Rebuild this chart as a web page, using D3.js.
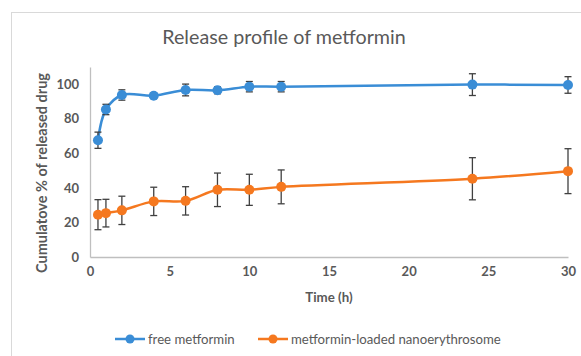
<!DOCTYPE html>
<html>
<head>
<meta charset="utf-8">
<script src="https://cdn.jsdelivr.net/npm/d3@7"></script>
<style>
  body { margin: 0; background: #fff; }
  svg { font-family: Lato, "Open Sans", sans-serif; }
</style>
</head>
<body>
<div id="chart"></div>
<script>
var times = [0.5, 1, 2, 4, 6, 8, 10, 12, 24, 30];
var freeMean = [67.6, 85.4, 93.8, 93.4, 96.7, 96.5, 98.6, 98.6, 99.8, 99.6];
var freeErr = [4.7, 3, 3, 1.5, 3.4, 2, 3, 3, 6.3, 4.8];
var nanoMean = [24.5, 25.4, 27, 32.2, 32.5, 38.9, 38.9, 40.6, 45.3, 49.7];
var nanoErr = [8.7, 8, 8.2, 8.2, 8.2, 9.7, 9, 9.8, 12.2, 13];
var xTicks = [0, 5, 10, 15, 20, 25, 30];
var yTicks = [0, 20, 40, 60, 80, 100];
var seriesNames = ['free metformin', 'metformin-loaded nanoerythrosome'];
var seriesColors = ['#3a8dd6', '#f5781f'];

var margin = {top: 67, left: 90, right: 13, bottom: 99};
var W = 581, H = 356;
var width = W - margin.left - margin.right,
    height = H - margin.top - margin.bottom;

var svg = d3.select('#chart').append('svg')
    .attr('width', W)
    .attr('height', H);

// chart frame
svg.append('rect')
    .attr('x', 11.5).attr('y', 12.5)
    .attr('width', 600).attr('height', 400)
    .attr('fill', 'none')
    .attr('stroke', '#d9d9d9');

svg.append('text')
    .attr('x', 284)
    .attr('y', 44)
    .attr('text-anchor', 'middle')
    .attr('font-size', '19.7px')
    .attr('fill', '#595959')
    .text('Release profile of metformin');

var g = svg.append('g')
    .attr('transform', 'translate(' + margin.left + ',' + margin.top + ')');

var x = d3.scaleLinear().domain([0, 30]).range([0, width]);
var y = d3.scaleLinear().domain([0, 110]).range([height, 0]);

var xAxis = g.append('g')
    .attr('transform', 'translate(0,' + height + ')')
    .call(d3.axisBottom(x).tickValues(xTicks).tickSize(0).tickPadding(10));
var yAxis = g.append('g')
    .call(d3.axisLeft(y).tickValues(yTicks).tickSize(0).tickPadding(11));

[xAxis, yAxis].forEach(function (a) {
    a.select('.domain').attr('stroke', '#bfbfbf').attr('stroke-width', 1.3);
    a.selectAll('text')
        .attr('font-family', 'Lato, "Open Sans", sans-serif')
        .attr('font-size', '13px')
        .attr('font-weight', 'bold')
        .attr('fill', '#595959');
});

g.append('text')
    .attr('x', width / 2)
    .attr('y', height + 45)
    .attr('text-anchor', 'middle')
    .attr('font-size', '13.3px')
    .attr('font-weight', 'bold')
    .attr('fill', '#595959')
    .text('Time (h)');

g.append('text')
    .attr('transform', 'rotate(-90)')
    .attr('x', -(height / 2) - 11)
    .attr('y', -43)
    .attr('text-anchor', 'middle')
    .attr('font-size', '14.5px')
    .attr('font-weight', 'bold')
    .attr('fill', '#595959')
    .text('Cumulatove % of released drug');

var series = [
    {mean: freeMean, err: freeErr, color: seriesColors[0]},
    {mean: nanoMean, err: nanoErr, color: seriesColors[1]}
];

var line = d3.line()
    .x(function (d) { return x(d.t); })
    .y(function (d) { return y(d.v); })
    .curve(d3.curveCatmullRom.alpha(0.5));

series.forEach(function (s) {
    var pts = times.map(function (t, i) {
        return {t: t, v: s.mean[i], e: s.err[i]};
    });

    g.append('path')
        .datum(pts)
        .attr('d', line)
        .attr('fill', 'none')
        .attr('stroke', s.color)
        .attr('stroke-width', 2.5);

    var eb = g.append('g')
        .attr('stroke', '#404040')
        .attr('stroke-width', 1.3);
    pts.forEach(function (d) {
        var cx = x(d.t);
        eb.append('line').attr('x1', cx).attr('x2', cx)
            .attr('y1', y(d.v + d.e)).attr('y2', y(d.v - d.e));
        eb.append('line').attr('x1', cx - 3.5).attr('x2', cx + 3.5)
            .attr('y1', y(d.v + d.e)).attr('y2', y(d.v + d.e));
        eb.append('line').attr('x1', cx - 3.5).attr('x2', cx + 3.5)
            .attr('y1', y(d.v - d.e)).attr('y2', y(d.v - d.e));
    });

    g.selectAll(null)
        .data(pts)
        .enter()
        .append('circle')
        .attr('cx', function (d) { return x(d.t); })
        .attr('cy', function (d) { return y(d.v); })
        .attr('r', 5)
        .attr('fill', s.color);
});

// legend
var legendX = [115, 258];
var legend = svg.append('g');
seriesNames.forEach(function (name, i) {
    var lx = legendX[i];
    legend.append('line')
        .attr('x1', lx).attr('x2', lx + 30)
        .attr('y1', 339).attr('y2', 339)
        .attr('stroke', seriesColors[i])
        .attr('stroke-width', 2.5);
    legend.append('circle')
        .attr('cx', lx + 15).attr('cy', 339).attr('r', 4.5)
        .attr('fill', seriesColors[i]);
    legend.append('text')
        .attr('x', lx + 33)
        .attr('y', 343.5)
        .attr('font-size', '13.2px')
        .attr('fill', '#595959')
        .text(name);
});
</script>
</body>
</html>
